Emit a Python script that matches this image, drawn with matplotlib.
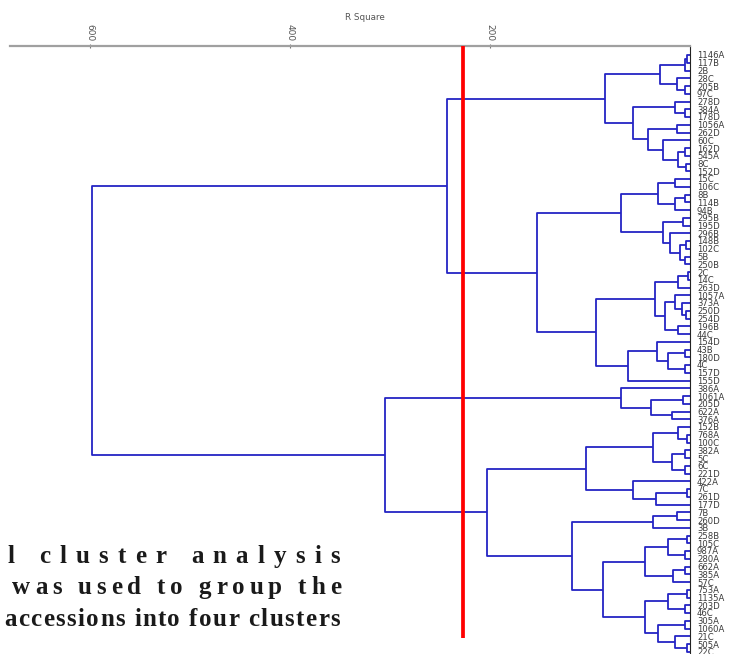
import matplotlib
matplotlib.use("Agg")
import matplotlib.pyplot as plt

# Dendrogram: each node is (R square height, left, right),
# a leaf is its accession label.
cluster_1 = (85,
             (30, (5, (3, '1146A', '117B'), '2B'), (13, '28C', (5, '205B', '97C'))),
             (57, (15, '278D', (5, '384A', '178D')),
              (42, (13, '1056A', '262D'),
               (27, '60C', (12, (5, '162D', '545A'), (4, '8C', '152D'))))))

cluster_2 = (153,
             (69, (32, (15, '15C', '106C'), (15, (5, '8B', '114B'), '94B')),
              (27, (7, '295B', '195D'),
               (20, '296B', (10, (4, '148B', '102C'), (5, '5B', '250B'))))),
             (94, (35, (12, (2, '2C', '14C'), '263D'),
                   (25, (15, '1057A', (8, '373A', (4, '250D', '254D'))), (12, '196B', '44C'))),
              (62, (33, '154D', (22, (5, '43B', '180D'), (5, '4C', '157D'))), '155D')))

cluster_3 = (69, '386A', (39, (7, '1061A', '205D'), (18, '622A', '376A')))

cluster_4 = (203,
             (104, (37, (12, '152B', (3, '768A', '100C')),
                    (18, (5, '382A', '5C'), (5, '6C', '221D'))),
              (57, '422A', (34, (3, '7C', '261D'), '177D'))),
             (118, (37, (13, '7B', '260D'), '3B'),
              (87, (45, (22, (3, '258B', '105C'), (5, '987A', '280A')),
                    (17, (5, '662A', '385A'), '57C')),
               (45, (22, (3, '753A', '1135A'), (5, '203D', '46C')),
                (32, (5, '305A', '1060A'), (15, '21C', (3, '505A', '22C')))))))

upper_height = 243
lower_height = 305
root_height = 598
cut_height = 227

tree = (root_height, (upper_height, cluster_1, cluster_2), (lower_height, cluster_3, cluster_4))

x_ticks = [600, 400, 200]

caption = ["l cluster analysis", "was used to group the", "accessions into four clusters"]

W, H = 737, 654
fig = plt.figure(figsize=(W / 100, H / 100), dpi=100)
ax = fig.add_axes([10 / W, 0, 680 / W, (H - 46) / H])

blue = '#2424c4'
leaves = []


def draw(node):
    # returns (y position, height) of the node
    if isinstance(node, str):
        leaves.append(node)
        return len(leaves) - 1, 0
    h, left, right = node
    yl, hl = draw(left)
    yr, hr = draw(right)
    ax.plot([hl, h, h, hr], [yl, yl, yr, yr], color=blue, lw=1.3, solid_capstyle='butt')
    return (yl + yr) / 2, h


draw(tree)

ytop = -9 / 7.75
ybot = (H - 55) / 7.75
ax.set_xlim(680, 0)
ax.set_ylim(ybot, ytop)

ax.vlines(cut_height, ytop, (638 - 55) / 7.75, color='#ff0000', lw=2.7, zorder=5)

ax.set_yticks(range(len(leaves)))
ax.set_yticklabels(leaves, fontsize=6.1, color='#3a3a3a', family='DejaVu Sans')
ax.yaxis.tick_right()
ax.tick_params(axis='y', length=0, pad=5)

ax.xaxis.tick_top()
ax.set_xticks(x_ticks)
ax.set_xticklabels([str(t) for t in x_ticks], rotation=-90, fontsize=6.5, color='#555555')
ax.tick_params(axis='x', direction='inout', length=3, color='#777777', pad=2)

for s in ['left', 'bottom']:
    ax.spines[s].set_visible(False)
ax.spines['top'].set_color('#a0a0a0')
ax.spines['top'].set_linewidth(1.6)
ax.spines['right'].set_color('#222222')
ax.spines['right'].set_linewidth(0.8)

fig.text(365 / W, 1 - 18 / H, 'R Square', fontsize=6.3, color='#555555',
         ha='center', va='center')

# caption overlay, justified between two pixel columns
renderer = fig.canvas.get_renderer()
font = dict(family='Liberation Serif', weight='bold', color='#1a1a1a')


def text_width(s, size):
    t = fig.text(0, 0, s, fontsize=size, **font)
    w = t.get_window_extent(renderer).width
    t.remove()
    return w


def justify(line, x0, x1, y, size):
    widths = []
    for c in line:
        if c == ' ':
            widths.append(text_width('a a', size) - text_width('aa', size))
        else:
            widths.append(text_width(c, size))
    gap = (x1 - x0 - sum(widths)) / (len(line) - 1)
    x = x0
    for c, w in zip(line, widths):
        if c != ' ':
            fig.text(x / W, 1 - y / H, c, fontsize=size, ha='left', va='baseline', **font)
        x += w + gap


cap_size = 18
justify(caption[0], 7, 340, 563, cap_size)
justify(caption[1], 12, 341, 594, cap_size)
justify(caption[2], 4, 340, 626, cap_size)

fig.savefig('out.png', dpi=100)
